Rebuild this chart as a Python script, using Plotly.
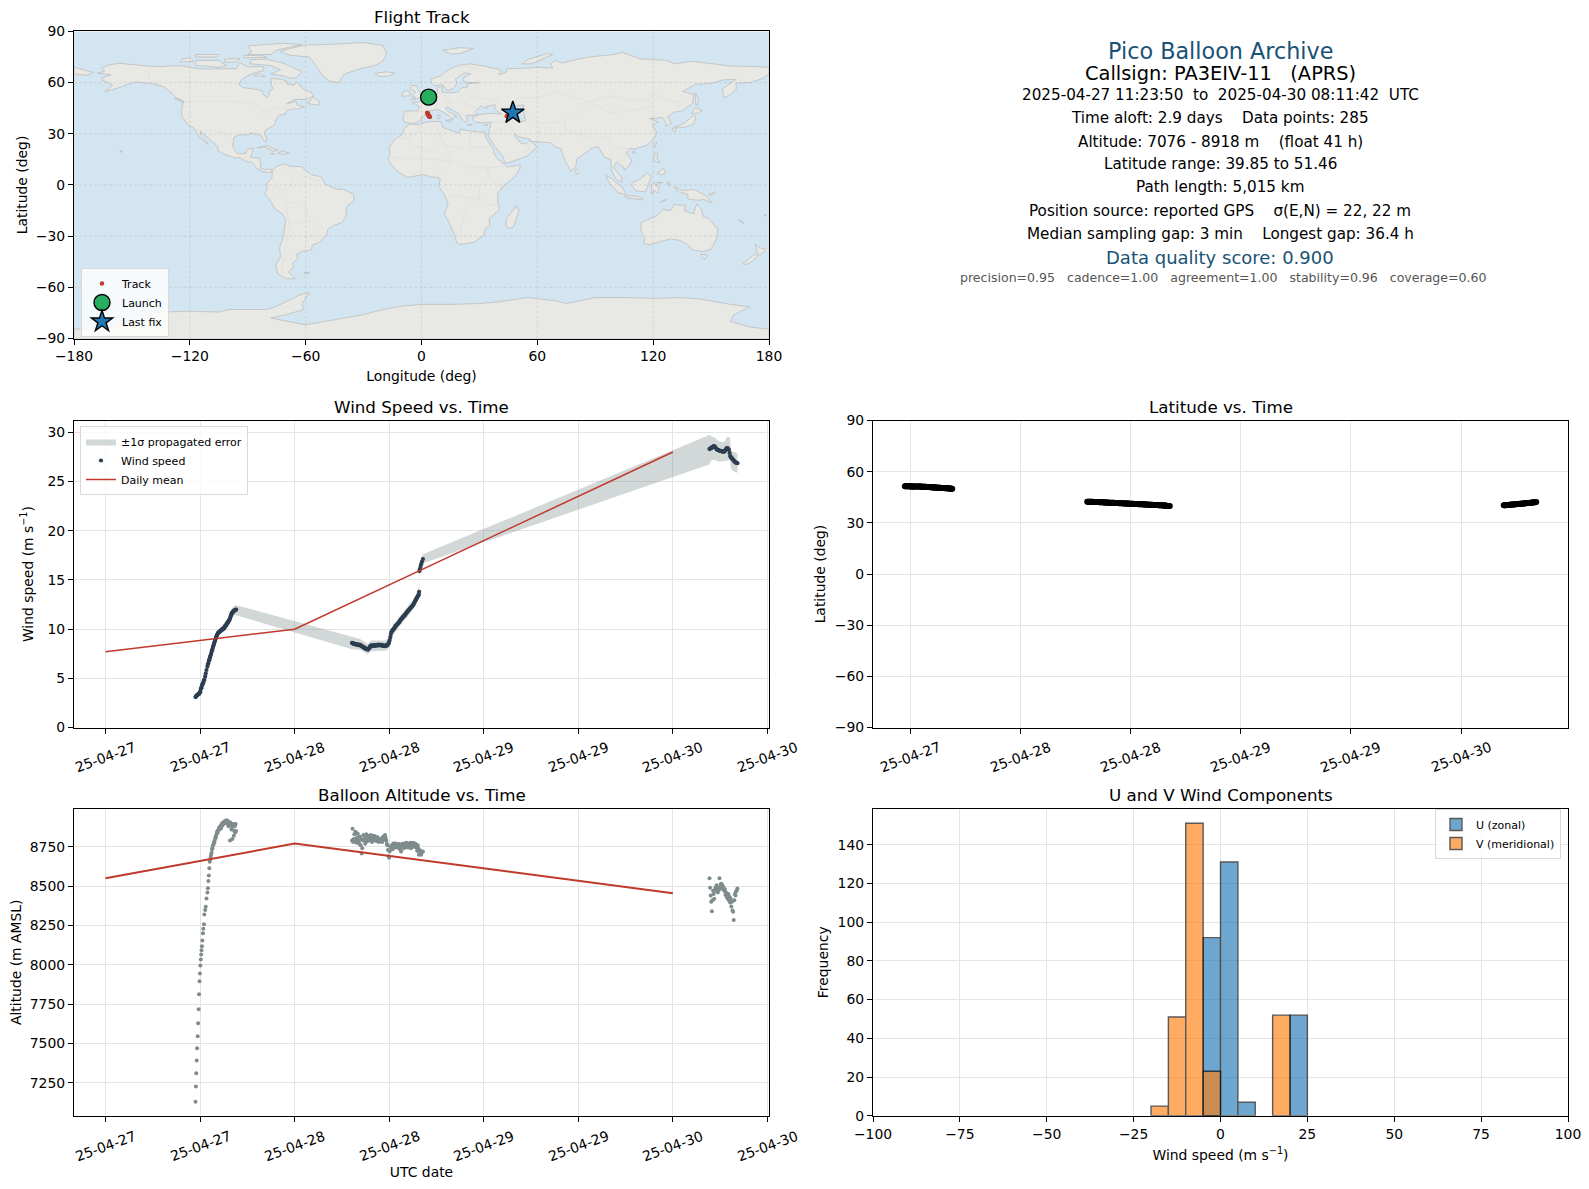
import pandas as pd
import plotly.graph_objects as go

# ---- flight data, hours after 2025-04-27 00:00 UTC ----
start_day = pd.Timestamp('2025-04-27 00:00')

hours_1 = [11.42,11.47,11.52,11.57,11.62,11.70,11.75,11.82,11.87,11.93,11.98,12.03,12.09,12.14,12.18,12.24,12.29,12.36,12.41,12.49,
           12.54,12.64,12.72,12.81,12.93,12.99,13.05,13.11,13.17,13.23,
           13.28,13.34,13.40,13.46,13.52,13.58,13.64,13.70,13.76,13.82,13.88,13.94,14.00,14.06,14.12,14.18,14.24,14.30,14.36,14.42,
           14.48,14.54,14.60,14.66,14.72,14.78,14.84,14.90,14.96,15.02,15.08,15.14,15.20,15.26,15.32,15.38,15.44,15.50,15.56,15.62,
           15.68,15.74,15.80,15.86,15.92,15.98,16.04,16.10,16.16,16.22,16.28,16.34,16.40,16.46,16.52,16.58]
wind_1 = [3.1,3.15,3.2,3.25,3.3,3.35,3.38,3.42,3.45,3.48,3.6,3.65,3.95,4.0,4.05,4.3,4.35,4.5,4.58,4.8,
          4.85,5.2,5.5,5.85,6.2,6.45,6.5,6.8,6.85,7.05,
          7.2,7.35,7.5,7.68,7.85,8.0,8.2,8.35,8.5,8.65,8.8,8.95,9.1,9.25,9.35,9.45,9.55,9.62,9.68,9.72,
          9.76,9.8,9.82,9.88,9.92,9.95,9.98,10.0,10.05,10.1,10.15,10.25,10.3,10.38,10.42,10.5,10.6,10.68,10.75,10.82,
          10.88,10.95,11.1,11.25,11.4,11.55,11.62,11.68,11.75,11.8,11.85,11.88,11.92,11.95,11.98,12.0]
alt_1 = [7129,7227,7310,7392,7469,7545,7628,7717,7812,7895,7945,7996,8034,8066,8092,8117,8155,8200,8229,8257,
         8320,8348,8369,8422,8460,8486,8532,8568,8613,8655,
         8668,8685,8700,8712,8735,8744,8760,8768,8780,8775,8795,8812,8808,8825,8832,8848,8840,8855,8862,8872,
         8860,8875,8882,8868,8890,8898,8885,8902,8895,8908,8900,8912,8905,8916,8910,8918,8905,8895,8912,8880,
         8900,8890,8790,8905,8885,8860,8895,8800,8875,8895,8820,8850,8880,8840,8895,8850]
lat_1 = [51.46,51.45,51.44,51.44,51.43,51.42,51.42,51.41,51.4,51.4,51.39,51.38,51.38,51.37,51.36,51.36,51.35,51.34,51.34,51.33,
         51.32,51.31,51.3,51.3,51.29,51.28,51.27,51.26,51.25,51.24,
         51.22,51.2,51.19,51.17,51.15,51.13,51.12,51.1,51.08,51.06,51.04,51.02,51.0,50.98,50.95,50.93,50.9,50.88,50.85,50.83,
         50.8,50.78,50.76,50.74,50.72,50.7,50.68,50.66,50.64,50.62,50.6,50.58,50.56,50.54,50.52,50.5,50.48,50.46,50.44,50.42,
         50.4,50.38,50.35,50.32,50.3,50.28,50.25,50.22,50.2,50.18,50.15,50.12,50.09,50.06,50.03,50.0]

hours_2 = [31.28,31.35,31.42,31.50,31.57,31.64,31.71,31.79,31.86,31.93,32.00,32.08,32.15,32.22,32.29,32.37,32.44,32.51,32.58,32.66,
           32.73,32.80,32.87,32.95,33.02,33.09,33.16,33.24,33.31,33.38,33.45,33.53,33.60,33.67,33.74,33.82,33.89,33.96,34.03,34.11,
           34.18,34.25,34.32,34.40,34.47,34.54,34.61,34.69,34.76,34.83,34.90,34.98,35.05,35.12,35.19,35.27,35.34,35.41,35.48,35.56,
           35.63,35.70,35.77,35.85,35.92,35.99,36.06,36.14,36.21,36.28,36.35,36.43,36.50,36.57,36.64,36.72,36.79,36.86,36.93,37.01,
           37.08,37.15,37.22,37.30,37.37,37.44,37.51,37.59,37.66,37.73,37.80,37.88,37.95,38.02,38.09,38.17,38.24,38.31,38.38,38.46,
           38.53,38.60,38.67,38.75,38.82,38.89,38.96,39.04,39.11,39.18,39.25,39.33,39.40,39.47,39.54,39.62,39.69,39.76,39.80,39.84,
           39.90,39.98,40.06,40.16,40.28]
wind_2 = [8.6,8.58,8.55,8.5,8.52,8.5,8.45,8.48,8.44,8.46,8.42,8.4,8.38,8.42,8.36,8.38,8.3,8.28,8.25,8.2,
          8.18,8.1,8.12,8.05,8.0,8.02,7.96,7.98,7.92,8.0,8.05,8.15,8.25,8.32,8.3,8.35,8.28,8.32,8.36,8.3,
          8.34,8.38,8.32,8.36,8.4,8.35,8.38,8.42,8.36,8.4,8.38,8.34,8.4,8.36,8.3,8.34,8.3,8.32,8.28,8.3,
          8.32,8.36,8.4,8.45,8.55,8.7,8.9,9.2,9.5,9.7,9.8,9.9,9.95,10.0,10.1,10.2,10.3,10.35,10.42,10.5,
          10.55,10.6,10.68,10.75,10.85,10.95,11.02,11.08,11.15,11.22,11.28,11.32,11.4,11.48,11.55,11.62,11.7,11.78,11.85,11.92,
          11.98,12.05,12.12,12.2,12.25,12.32,12.38,12.45,12.55,12.65,12.78,12.9,13.0,13.1,13.22,13.32,13.42,13.5,13.8,15.9,
          16.1,16.35,16.6,16.85,17.13]
alt_2 = [8790,8865,8780,8800,8830,8785,8845,8800,8775,8810,8835,8790,8780,8770,8815,8760,8800,8708,8740,8790,
         8825,8795,8815,8770,8780,8830,8800,8785,8820,8805,8790,8815,8800,8825,8795,8780,8810,8800,8820,8790,
         8805,8815,8790,8800,8785,8810,8795,8780,8800,8790,8785,8800,8790,8780,8810,8815,8795,8800,8825,8805,
         8790,8770,8760,8730,8690,8680,8720,8750,8745,8755,8760,8735,8770,8755,8750,8772,8745,8760,8765,8750,
         8755,8770,8740,8765,8750,8730,8720,8745,8770,8755,8760,8740,8765,8772,8755,8775,8750,8770,8745,8760,
         8770,8755,8775,8740,8770,8760,8775,8750,8765,8772,8760,8770,8745,8750,8725,8760,8740,8700,8730,8710,
         8715,8725,8700,8715,8720]
lat_2 = [42.35,42.35,42.34,42.34,42.33,42.33,42.32,42.32,42.31,42.3,42.3,42.28,42.26,42.24,42.22,42.2,42.18,42.16,42.14,42.12,
         42.1,42.08,42.06,42.04,42.02,42.0,41.98,41.96,41.94,41.92,41.9,41.88,41.86,41.84,41.83,41.82,41.8,41.78,41.76,41.74,
         41.72,41.7,41.68,41.66,41.64,41.62,41.6,41.58,41.56,41.54,41.52,41.5,41.48,41.46,41.44,41.42,41.4,41.38,41.36,41.34,
         41.32,41.3,41.28,41.26,41.24,41.22,41.2,41.18,41.16,41.14,41.12,41.1,41.08,41.06,41.04,41.02,41.0,40.98,40.96,40.94,
         40.92,40.9,40.88,40.86,40.84,40.82,40.8,40.78,40.76,40.74,40.72,40.7,40.68,40.66,40.64,40.62,40.6,40.58,40.56,40.54,
         40.52,40.5,40.48,40.46,40.44,40.42,40.4,40.38,40.36,40.34,40.32,40.3,40.28,40.25,40.22,40.2,40.18,40.15,40.12,40.1,
         40.05,40.0,39.95,39.9,39.85]

hours_3 = [76.65,76.72,76.80,76.87,76.95,77.02,77.10,77.17,77.25,77.32,77.40,77.47,77.55,77.62,77.70,77.77,77.85,77.92,78.00,78.07,
           78.15,78.22,78.30,78.37,78.45,78.52,78.60,78.67,78.75,78.82,78.90,78.97,79.05,79.12,79.20,79.27,79.35,79.42,79.50,79.57,
           79.65,79.72,79.80,79.87,79.95,80.02,80.10,80.19]
wind_3 = [28.3,28.35,28.38,28.4,28.45,28.5,28.55,28.58,28.6,28.55,28.45,28.38,28.3,28.25,28.22,28.18,28.15,28.14,28.12,28.1,
          28.08,28.06,28.05,28.04,28.02,28.05,28.1,28.2,28.3,28.38,28.4,28.35,28.3,28.2,27.9,27.6,27.5,27.42,27.35,27.28,
          27.2,27.13,27.05,27.0,26.95,26.92,26.88,26.86]
alt_3 = [8550,8490,8440,8400,8340,8410,8470,8450,8420,8475,8490,8470,8505,8470,8460,8490,8475,8550,8490,8510,
         8515,8495,8505,8480,8490,8470,8480,8445,8460,8430,8440,8420,8450,8410,8430,8395,8420,8370,8400,8345,
         8337,8284,8410,8450,8440,8465,8470,8485]
lat_3 = [40.3,40.32,40.35,40.38,40.4,40.42,40.45,40.5,40.55,40.6,40.65,40.7,40.75,40.78,40.8,40.82,40.85,40.9,40.95,41.0,
         41.02,41.05,41.1,41.15,41.18,41.2,41.25,41.3,41.35,41.4,41.42,41.45,41.5,41.55,41.6,41.65,41.68,41.7,41.75,41.8,
         41.85,41.9,41.95,42.0,42.05,42.1,42.15,42.2]

# +/- 1 sigma band outline
band_hours = [11.42,12.0,13.2,14.1,14.5,15.35,15.8,16.0,16.45,31.28,32.3,33.3,33.7,35.6,36.06,36.5,37.33,38.17,39.0,39.65,39.8,39.86,40.0,40.28,
              76.7,76.85,77.25,77.9,78.5,78.9,79.25,79.36,79.8,80.2]
band_low = [2.9,3.3,6.8,8.9,9.4,10.0,10.5,11.1,11.44,7.96,7.9,7.45,7.75,7.8,8.2,9.4,10.2,11.1,11.95,12.95,13.3,15.5,16.1,16.7,
            26.75,27.15,27.2,27.0,27.05,27.1,27.2,26.3,26.0,25.9]
band_up = [3.2,3.7,7.3,9.6,10.1,10.9,11.4,12.1,12.46,9.24,9.0,8.5,8.85,8.85,9.25,10.45,11.3,12.1,13.0,14.0,14.3,16.6,17.2,17.6,
           29.75,29.6,29.5,29.05,29.0,29.55,29.5,28.1,28.0,27.9]

# daily means
mean_hours = [0, 24, 72]
mean_wind = [7.7, 10.0, 28.0]
mean_alt = [8550, 8770, 8455]

# histogram, bin lower edges and counts
bin_width = 5
u_edges = [-5, 0, 5, 20]
u_counts = [92, 131, 7, 52]
v_edges = [-20, -15, -10, -5, 15]
v_counts = [5, 51, 151, 23, 52]

# track on the map
track_lon = [3.6,3.7,3.6,3.5,3.0,3.1,3.2,3.4,3.5,3.6,3.8,3.9,4.1,4.4,44.2,44.6,45.0,45.4,45.8,46.2,46.6,47.0]
track_lat = [51.4,51.0,50.5,50.0,42.4,42.1,41.8,41.5,41.2,40.9,40.6,40.3,40.1,39.9,40.3,40.6,40.9,41.2,41.5,41.8,42.0,42.2]
launch_lon, launch_lat = [3.7], [51.46]
last_lon, last_lat = [47.3], [42.3]

# tick labels
time_ticks = [0, 12, 24, 36, 48, 60, 72, 84]
time_labels = ['25-04-27','25-04-27','25-04-28','25-04-28','25-04-29','25-04-29','25-04-30','25-04-30']
lat_time_ticks = [12, 24, 36, 48, 60, 72]
lat_time_labels = ['25-04-27','25-04-28','25-04-28','25-04-29','25-04-29','25-04-30']
map_xticks = [-180, -120, -60, 0, 60, 120, 180]
map_yticks = [-90, -60, -30, 0, 30, 60, 90]
wind_ticks = [0, 5, 10, 15, 20, 25, 30]
lat_ticks = [-90, -60, -30, 0, 30, 60, 90]
alt_ticks = [7250, 7500, 7750, 8000, 8250, 8500, 8750]
hist_xticks = [-100, -75, -50, -25, 0, 25, 50, 75, 100]
hist_yticks = [0, 20, 40, 60, 80, 100, 120, 140]

# ---- world outline, lon/lat ----
north_america = [(-168,65.6),(-164,66.5),(-166,68.3),(-162,70.3),(-156.5,71.3),(-150,70.5),(-141,69.6),(-135,69.3),(-128,70),(-124,69.8),(-115,68),(-108,68),(-100,68),(-96,68.2),(-94,71.8),(-90,69),(-85,69.5),(-81.5,69),(-82,67),(-87,65.5),(-90,64),(-93,62),(-94.7,59),(-92.5,57),(-88,56.5),(-82.5,55.2),(-82,53),(-80,51.3),(-79,52),(-79,54.5),(-76.8,56.5),(-78,58.8),(-78,62.4),(-73,62),(-70,61),(-69.5,59),(-66,58.5),(-64.5,60.3),(-61.5,56.5),(-57,54),(-56,52),(-60,50.2),(-66,50),(-70,47.5),(-65,49),(-64.5,47),(-61,45.8),(-64,44.5),(-66,44.5),(-70,43.7),(-70.5,41.7),(-74,40.6),(-75.5,38),(-76,35.2),(-78,33.9),(-81,32),(-81.4,30),(-80,26.8),(-80.5,25.2),(-82,26.5),(-83,29),(-85,29.7),(-89,30.3),(-89.5,29.2),(-94,29.5),(-97.2,27.8),(-97.8,22.5),(-95.8,18.8),(-94,18.2),(-91,18.7),(-90.3,21),(-87,21.5),(-88,18),(-88.5,16),(-84,15.8),(-83.3,12),(-83.5,10),(-81,8.9),(-79.5,9.5),(-77.3,8.7),(-78,7.5),(-80,7.3),(-83,8.2),(-85.7,10),(-87.5,13),(-91.5,14),(-94.5,16.2),(-97,15.8),(-102,18),(-105.5,20),(-105.5,22.5),(-109,25.8),(-112.7,29.5),(-114.7,31.7),(-114.2,29),(-110.5,24),(-112,25),(-115,28),(-116.7,31.5),(-118.5,34),(-120.7,35),(-122.5,37.7),(-124.2,40.3),(-124.3,43),(-124,46.5),(-123,49),(-127,51),(-130,54.5),(-133.5,57.5),(-138,59),(-144,60),(-148,60.5),(-152,59),(-158,56.5),(-164,54.7),(-160,58.5),(-162,59.8),(-165.5,61.5),(-165,63),(-161,64.5)]
greenland = [(-73,78.2),(-68,80),(-60,82),(-45,82.5),(-30,83.5),(-20,81.8),(-18,77),(-20,72.5),(-24,70),(-32,68),(-40,65),(-43,60),(-48,61),(-52,65),(-54,69),(-58,75),(-68,76)]
baffin = [(-80,73.7),(-72,71.5),(-67,69),(-62,66.5),(-64.5,63),(-68,62.5),(-72,64),(-78,65),(-73,67.5),(-78,70),(-89,71),(-88,73.5)]
victoria_is = [(-117,70),(-105,69),(-101,70),(-105,73),(-117,73)]
banks_is = [(-125,72),(-118,72.5),(-120,74.5),(-124,74)]
ellesmere = [(-90,76.5),(-78,76.5),(-75,79),(-62,82.3),(-72,83),(-90,81.5),(-88,78)]
devon_is = [(-92,74.5),(-80,74.7),(-82,75.7),(-92,76)]
melville_is = [(-117,75),(-106,75),(-105,76.5),(-117,76.5)]
prince_wales_is = [(-102,72),(-96,72),(-94,74),(-102,73.8)]
newfoundland = [(-59,47.7),(-53,46.7),(-53,49),(-56,51.5)]
southampton_is = [(-87,64),(-81,63.5),(-84,65.5)]
vancouver_is = [(-128,50.7),(-123.5,48.4),(-125,50.2)]
cuba = [(-85,21.8),(-80,23),(-74.2,20.2),(-77.5,19.9),(-78,20.8),(-82,22.3)]
hispaniola = [(-74.4,18.5),(-72,19.9),(-68.4,18.6),(-71,18)]
jamaica = [(-78.3,18.4),(-76.3,18.2),(-77,17.8)]
hawaii = [(-156,20.3),(-155,19.7),(-155.8,19)]
south_america = [(-77.3,8.7),(-75,10.8),(-71.5,12.4),(-68,11),(-62,10.7),(-60,8.5),(-57,6),(-52,4.8),(-50,0.5),(-44,-2.5),(-40,-2.8),(-35.2,-5.5),(-35,-9),(-39,-13),(-39,-18),(-41,-22),(-45,-23.5),(-48.5,-26),(-49,-29),(-53,-33.7),(-56.5,-35),(-57,-38),(-62,-39),(-65,-41),(-64,-43),(-67,-46),(-66,-48),(-69,-51),(-65.3,-55),(-70,-55),(-74.5,-52),(-75.5,-47),(-73,-42),(-73.5,-37),(-71.5,-30),(-70.3,-20),(-72,-17),(-76,-14),(-79,-8),(-81.3,-5),(-80,-2.5),(-80,1),(-77.5,4),(-77.3,7)]
falklands = [(-61,-51.5),(-58,-51.3),(-59,-52.2)]
africa = [(-6,35.8),(-2,35.2),(3,36.9),(10,37.3),(11,33.7),(15,32.3),(19.5,30.3),(20,32.7),(25,31.7),(29,31),(32.5,31.2),(32.6,30),(33.8,27),(35.5,24),(37.2,21),(37.3,19),(39.5,15.2),(43,12),(43.3,11.5),(44.5,10.5),(51.2,11.8),(50.8,9),(48,4.5),(42,-1),(39.5,-5),(39.5,-10),(40.5,-14.5),(37,-17.8),(35,-20),(35.5,-24),(32.8,-26),(32.5,-29),(28,-33),(25.5,-34),(20,-34.8),(18.3,-34),(17,-29),(14.5,-22.5),(11.8,-17),(13.8,-11),(12,-6),(9,-1),(9.7,3.5),(8.5,4.5),(5.5,4.5),(1,6),(-4,5.2),(-7.5,4.4),(-13,8.5),(-15,11),(-17.3,14.7),(-16.2,19),(-17,21),(-14.5,26),(-9.7,30),(-9,33)]
madagascar = [(49.3,-12),(50.4,-15.5),(47.5,-25),(45,-25.5),(43.5,-23),(44.3,-19),(47,-15.5)]
eurasia = [(-9,37),(-9.5,38.8),(-8.8,43.3),(-1.8,43.4),(-1.2,46),(-4.7,48.3),(-1.5,48.7),(1.5,50.5),(4,52),(7,53.5),(8.5,54),(8.3,57),(10.7,57.7),(10.5,54.5),(14,54),(19,54.5),(21,57),(24,57.5),(23.5,59.3),(30,60),(24,60),(21.5,61),(22,63),(25.5,65.2),(22,65.7),(17.5,62),(18.5,59.8),(16.5,56.5),(14,55.5),(12.7,56),(11,59),(7,58),(5,60),(5,62),(10,64),(14,67.5),(19,70),(25,71),(31,70),(41,67.5),(41,66.5),(40,64.6),(44,66),(44,68),(54,68.5),(60,69),(68,68.5),(67,71),(69,73),(73,71.5),(75,72),(80,73.5),(87,75),(100,76.5),(104,77.7),(113,74),(127,73),(131,71),(140,72.5),(150,71),(160,69.7),(170,69.5),(180,69),(180,65),(177,62.5),(170,60),(163,59.7),(163,56),(160,53),(156.7,51),(155.7,56),(161,60.5),(163,62),(156,61.5),(150,59.5),(142,59),(135.3,54.8),(141,53),(140.5,48),(135,43.5),(130.5,42.5),(127.5,39.8),(129.5,36),(126.5,34.5),(126.5,37),(124.5,39.8),(121.5,39),(118,39),(122.5,37),(119.5,35),(121.7,31),(121,28),(117,23.5),(110.5,21),(108,21.5),(106,19),(109,14),(107,10.5),(105,8.7),(105,10),(101,13.5),(99.5,10),(103.5,4.5),(104,1.5),(101,3),(98.5,8),(98,15),(95,16),(94,18),(91.5,22.5),(88,21.7),(86.5,20),(80.3,15),(80,11),(77.5,8),(74.5,14),(72.8,19),(72.5,21),(69,22.5),(67,24.8),(61.5,25.2),(57,25.5),(56,27),(51,28),(48.5,30),(48,29.5),(50,26.5),(51.5,24.5),(54,24),(56,26),(59.8,22.5),(55,17),(45,13),(43,13),(42.5,16),(39,21),(35,28),(34.5,29.5),(34.9,31.5),(36,35.5),(36.2,36.7),(30.5,36.5),(27.5,37),(26.3,39.5),(29,41),(35,42),(41.5,41.5),(38,44.5),(38,47),(33.5,46),(33.5,44.5),(31,46.5),(28,43),(29,41.2),(26,40.7),(23,40.5),(24,38),(22.7,36.7),(20,39.8),(19.5,41.5),(15,44.5),(13.5,45.7),(12.3,45),(13.7,43),(16,41.7),(18.5,40),(16.7,40),(16,38),(14.5,40.5),(10.5,43),(8.5,44.3),(4,43.4),(3,41.8),(0,39.5),(-0.5,38),(-2,36.8),(-5.5,36)]
chukotka = [(-180,69),(-175,67.5),(-170,66),(-173,64.3),(-180,65)]
britain = [(-5.5,50),(1.3,51.2),(1.7,52.7),(-0.2,53.7),(-2,56),(-2,57.7),(-5,58.6),(-6,56.5),(-3,54.7),(-4.5,53.3),(-5,51.8),(-3,51.3)]
ireland = [(-10,52),(-6.2,52.2),(-6,54.5),(-8,55.2),(-10,54)]
iceland = [(-24,65.5),(-18,66.3),(-14,65.5),(-16,64),(-20,63.5),(-22.5,64)]
svalbard = [(11,79),(20,80.5),(27,80),(20,77),(15,76.8)]
novaya_zemlya = [(52,71),(55,73.5),(65,77),(68,76.5),(57,71)]
sicily = [(12.5,38),(15.5,38.2),(15,36.7)]
sardinia = [(8.3,41),(9.7,41),(9.5,39),(8.5,39)]
crete = [(23.5,35.5),(26.3,35.2),(24.8,34.9)]
cyprus = [(32.3,35),(34.5,35.6),(33.5,34.7)]
sakhalin = [(142,54),(143.5,50),(143,46.5),(142,47),(142,52)]
honshu = [(130.9,34),(136,36),(140,40),(141.5,41),(142,39),(140.8,35.5),(136,33.7),(132,33.8)]
hokkaido = [(140,42),(141.8,45.5),(145.5,43.5),(143,42)]
kyushu = [(130,33.5),(132,33),(131,31),(130,32)]
taiwan = [(121,25.2),(122,25),(120.8,22),(120,23.5)]
hainan = [(109,19),(110.5,20),(110.5,18.5)]
luzon = [(120.5,18.5),(122.2,18.5),(122,15),(124,13),(120.5,13.8)]
mindanao = [(122,7),(125.5,9.8),(126.5,7),(124,6)]
borneo = [(109,1.5),(113,3.2),(117,7),(119,5),(117.7,1),(116,-4),(111,-3.5),(109,0)]
sumatra = [(95.3,5.6),(98,4),(104,-1.5),(106,-5.8),(102,-4.5),(98,0)]
java = [(105.3,-6.5),(111,-6.5),(114.5,-7.7),(114.5,-8.7),(106,-7.5)]
timor = [(123.5,-10.3),(127,-8.4),(125,-9.2)]
halmahera = [(127.5,2),(128.7,1),(128,-0.8)]
sulawesi = [(119.5,-5.5),(119,0),(121,1.2),(125,1.5),(121,0),(123,-1),(122.5,-5),(120.5,-3)]
new_guinea = [(131,-1),(135,-3.3),(141,-2.6),(147,-6),(150.5,-10.5),(146,-8.5),(143,-9),(138,-8.3),(138,-5.5),(133,-4)]
new_britain = [(148.5,-5.8),(152,-4.2),(151,-6)]
new_caledonia = [(164,-20.2),(167,-22.4),(166,-22.2)]
fiji = [(177.3,-17.5),(178.6,-17.7),(178,-18.3)]
australia = [(114,-22),(113.5,-26),(115.7,-32),(115,-34.3),(118,-35),(124,-33),(129,-31.6),(134,-32.5),(138,-35),(140,-38),(146,-39),(150,-37.5),(153,-31),(153.5,-26),(149,-20),(146,-18.5),(145,-14.5),(142.5,-11),(141,-17),(136,-15),(136.5,-12),(131,-11.5),(129,-15),(125,-14.5),(122,-18)]
tasmania = [(144.7,-40.7),(148,-41),(147,-43.5),(145.5,-42.8)]
nz_north = [(172.7,-34.5),(175.5,-37),(178.5,-37.7),(175,-41.5),(174,-39.5)]
nz_south = [(172.7,-40.5),(174,-41.7),(171,-45),(168,-46.7),(166.5,-46),(171,-42)]
sri_lanka = [(80,9.7),(82,7.5),(80.7,6),(79.8,8)]
antarctica = [(-180,-84.5),(-165,-84.5),(-150,-80),(-148,-77),(-135,-74.5),(-120,-74),(-105,-74.5),(-100,-73),(-90,-73),(-80,-73),(-75,-71),(-68,-67),(-62,-64),(-58,-63.3),(-60,-66),(-62,-70),(-61,-73),(-70,-76),(-78,-78),(-60,-82),(-40,-78),(-30,-76),(-20,-73),(-10,-71),(0,-70),(15,-70),(30,-69.5),(40,-68.5),(55,-66),(70,-68),(75,-69.5),(90,-66),(105,-66),(120,-66.5),(135,-66),(145,-67),(160,-70),(170,-71.5),(162,-76),(160,-80),(170,-83.3),(180,-84.5),(180,-90),(-180,-90)]
caspian = [(47,45),(49,46.5),(53,46.8),(53,42),(54,37.5),(50,37.3),(49,40),(47.5,43)]

land = [north_america, greenland, baffin, victoria_is, banks_is, ellesmere, devon_is, melville_is, prince_wales_is,
        newfoundland, southampton_is, vancouver_is, cuba, hispaniola, jamaica, hawaii, south_america, falklands, africa,
        madagascar, eurasia, chukotka, britain, ireland, iceland, svalbard, novaya_zemlya, sicily, sardinia, crete, cyprus,
        sakhalin, honshu, hokkaido, kyushu, taiwan, hainan, luzon, mindanao, borneo, sumatra, java, timor, halmahera,
        sulawesi, new_guinea, new_britain, new_caledonia, fiji, australia, tasmania, nz_north, nz_south, sri_lanka,
        antarctica]

borders = [
    [(-123,49),(-95,49),(-89,48),(-83,46),(-82.5,42),(-79,43.3),(-75,45),(-71,45),(-67.5,47),(-67,45)],
    [(-141,69.6),(-141,60.3),(-135,59)],
    [(-117,32.5),(-106.5,31.8),(-101,29.5),(-97.2,26)],
    [(-92,14.5),(-91,17.5),(-89,18)],
    [(-52,2),(-60,5),(-67,1.5),(-70,-4),(-74,-7.5),(-70,-11),(-65,-10),(-60,-14),(-58,-20),(-54.5,-25.5),(-57.5,-30),(-53.5,-33.7)],
    [(-69.5,-17.5),(-68,-23),(-70,-33),(-72,-45),(-72,-52)],
    [(-72,11.5),(-67,6),(-67,1.5)],
    [(-80,-3.5),(-75,-1),(-70,-4)],
    [(-69.5,-17.5),(-70,-11)],
    [(-58,-20),(-62,-22),(-68,-23)],
    [(-13,27.7),(-8.7,27),(3,19),(12,23.5),(25,20),(25,31.5)],
    [(-8.7,27),(-1,32),(-2,35)],
    [(25,22),(37,22)],
    [(12,23.5),(15,14),(14,11),(9,5)],
    [(30,-1),(30,-8),(24,-11),(22,-18),(20,-28),(17,-29)],
    [(34,10),(35,4.5),(41,-1.7)],
    [(30,-1),(35,4.5)],
    [(12.5,-6),(30,-8)],
    [(-16,16),(5,15),(15,14),(24,10),(34,10),(43,11)],
    [(8,37),(9,30),(12,23.5)],
    [(30,-8),(35,-12),(40,-11)],
    [(2,51),(8,48),(7,44)],
    [(-1.8,43.3),(3,42.5)],
    [(-7,37),(-7,42),(-9,42)],
    [(8,54.8),(15,51),(13,48),(23,49),(19,54.5)],
    [(30,60),(28,56),(24,51.5),(40,49.5),(38,47)],
    [(22,48),(29,45)],
    [(19.5,42),(23,41),(26,41.7)],
    [(23,65.7),(29,69),(20,69),(12,61),(11,59)],
    [(48,46),(50,51),(60,51),(70,55),(80,51),(87,49),(98,52),(106,50),(117,50),(120,53),(127,50),(135,48),(131,43)],
    [(87,49),(80,42),(74,39),(75,32),(79,30),(88,27.5),(97,28),(98,24),(102,21.5),(108,21.5)],
    [(53,42),(61,36),(74,37)],
    [(61,36),(61,29),(61.5,25)],
    [(45,39),(46,35),(48,30)],
    [(36,36.7),(45,37),(42,33),(39,32),(35,29.5)],
    [(52,19),(55,20),(56,24.5)],
    [(66,25),(71,29),(75,32)],
    [(88,27),(92,23),(91,22.5)],
    [(100,20),(98,16)],
    [(105,22),(105,14),(102,14)],
    [(87,49),(98,42),(111,44),(120,47),(117,50)],
    [(141,-2.6),(141,-9)],
]

# info panel text
info_lines = [
    ('Pico Balloon Archive', 51, 22.3, '#1A5276'),
    ('Callsign: PA3EIV-11   (APRS)', 73, 19.4, 'black'),
    ('2025-04-27 11:23:50  to  2025-04-30 08:11:42  UTC', 95, 15.2, 'black'),
    ('Time aloft: 2.9 days    Data points: 285', 118, 15.2, 'black'),
    ('Altitude: 7076 - 8918 m    (float 41 h)', 142, 15.2, 'black'),
    ('Latitude range: 39.85 to 51.46', 164, 15.2, 'black'),
    ('Path length: 5,015 km', 187, 15.2, 'black'),
    ('Position source: reported GPS    σ(E,N) = 22, 22 m', 211, 15.2, 'black'),
    ('Median sampling gap: 3 min    Longest gap: 36.4 h', 234, 15.2, 'black'),
    ('Data quality score: 0.900', 257, 18, '#1A5276'),
]
info_small = 'precision=0.95   cadence=1.00   agreement=1.00   stability=0.96   coverage=0.60'


def to_time(hours):
    return start_day + pd.to_timedelta(hours, unit='h')


FIG_W, FIG_H = 1589, 1189
LEFT = [74 / FIG_W, 769 / FIG_W]
RIGHT = [873 / FIG_W, 1568 / FIG_W]
ROW1 = [1 - 338.5 / FIG_H, 1 - 31.4 / FIG_H]
ROW2 = [1 - 727.6 / FIG_H, 1 - 420.5 / FIG_H]
ROW3 = [1 - 1115.8 / FIG_H, 1 - 808.7 / FIG_H]
FONT = 'DejaVu Sans'
TICK_SIZE = 13.9
GRID = '#E4E4E4'
RED = '#C0392B'
time_range = [to_time(-4.0), to_time(84.2)]
lat_range = [to_time(7.95), to_time(83.65)]

assert len(hours_1) == len(wind_1) == len(alt_1) == len(lat_1)
assert len(hours_2) == len(wind_2) == len(alt_2) == len(lat_2)
assert len(hours_3) == len(wind_3) == len(alt_3) == len(lat_3)

all_hours = hours_1 + hours_2 + hours_3
times = to_time(all_hours)
wind = wind_1 + wind_2 + wind_3
alt = alt_1 + alt_2 + alt_3
lat = lat_1 + lat_2 + lat_3

fig = go.Figure()

# --- map ---
land_x, land_y = [], []
for poly in land:
    land_x += [p[0] for p in poly] + [poly[0][0], None]
    land_y += [p[1] for p in poly] + [poly[0][1], None]
fig.add_trace(go.Scatter(x=land_x, y=land_y, mode='lines', fill='toself', fillcolor='#E8E8E4',
                         line=dict(color='#BEBEBE', width=0.8), hoverinfo='skip', showlegend=False,
                         xaxis='x', yaxis='y'))
border_x, border_y = [], []
for line in borders:
    border_x += [p[0] for p in line] + [None]
    border_y += [p[1] for p in line] + [None]
fig.add_trace(go.Scatter(x=border_x, y=border_y, mode='lines', line=dict(color='#DEDEDA', width=0.7),
                         hoverinfo='skip', showlegend=False, xaxis='x', yaxis='y'))
fig.add_trace(go.Scatter(x=[p[0] for p in caspian] + [caspian[0][0]], y=[p[1] for p in caspian] + [caspian[0][1]],
                         mode='lines', fill='toself', fillcolor='#D3E5F1', line=dict(color='#BEBEBE', width=0.8),
                         hoverinfo='skip', showlegend=False, xaxis='x', yaxis='y'))
fig.add_trace(go.Scatter(x=track_lon, y=track_lat, mode='markers', name='Track',
                         marker=dict(color=RED, size=4.4), xaxis='x', yaxis='y', legend='legend'))
fig.add_trace(go.Scatter(x=launch_lon, y=launch_lat, mode='markers', name='Launch',
                         marker=dict(color='#27AE60', size=16, line=dict(color='black', width=1.4)),
                         xaxis='x', yaxis='y', legend='legend'))
fig.add_trace(go.Scatter(x=last_lon, y=last_lat, mode='markers', name='Last fix',
                         marker=dict(color='#1F77B4', size=17, symbol='star', line=dict(color='black', width=1.4)),
                         xaxis='x', yaxis='y', legend='legend'))

# --- wind speed ---
band_t = list(to_time(band_hours))
fig.add_trace(go.Scatter(x=band_t + band_t[::-1], y=band_up + band_low[::-1], mode='lines', fill='toself',
                         fillcolor='rgba(127,140,141,0.35)', line=dict(width=0), name='±1σ propagated error',
                         hoverinfo='skip', xaxis='x2', yaxis='y2', legend='legend2'))
fig.add_trace(go.Scatter(x=times, y=wind, mode='markers', name='Wind speed',
                         marker=dict(color='#2C3E50', size=4.2), xaxis='x2', yaxis='y2', legend='legend2'))
fig.add_trace(go.Scatter(x=to_time(mean_hours), y=mean_wind, mode='lines', name='Daily mean',
                         line=dict(color=RED, width=1.5), xaxis='x2', yaxis='y2', legend='legend2'))

# --- latitude ---
fig.add_trace(go.Scatter(x=times, y=lat, mode='markers', marker=dict(color='black', size=6),
                         showlegend=False, xaxis='x3', yaxis='y3'))

# --- altitude ---
fig.add_trace(go.Scatter(x=times, y=alt, mode='markers', marker=dict(color='#7F8C8D', size=4),
                         showlegend=False, xaxis='x4', yaxis='y4'))
fig.add_trace(go.Scatter(x=to_time(mean_hours), y=mean_alt, mode='lines', line=dict(color=RED, width=2),
                         showlegend=False, xaxis='x4', yaxis='y4'))

# --- U / V histogram ---
edge = dict(color='black', width=1.4)
fig.add_trace(go.Bar(x=[e + bin_width / 2 for e in u_edges], y=u_counts, width=bin_width, name='U (zonal)', opacity=0.65,
                     marker=dict(color='#1F77B4', line=edge), xaxis='x5', yaxis='y5', legend='legend3'))
fig.add_trace(go.Bar(x=[e + bin_width / 2 for e in v_edges], y=v_counts, width=bin_width, name='V (meridional)', opacity=0.65,
                     marker=dict(color='#FF7F0E', line=edge), xaxis='x5', yaxis='y5', legend='legend3'))


def axis_style(**kw):
    style = dict(showline=True, linecolor='black', linewidth=1.2, mirror=True, ticks='outside', ticklen=5,
                 tickwidth=1.1, tickcolor='black', showgrid=True, gridcolor=GRID, gridwidth=1, zeroline=False,
                 tickfont=dict(family=FONT, size=TICK_SIZE, color='black'))
    style.update(kw)
    return style


def time_axis(domain, anchor, ticks=time_ticks, rng=time_range):
    return axis_style(domain=domain, anchor=anchor, type='date', range=rng, tickmode='array',
                      tickvals=[to_time(t) for t in ticks], showticklabels=False)


def ax_title(text, standoff):
    return dict(text=text, font=dict(family=FONT, size=TICK_SIZE, color='black'), standoff=standoff)


map_grid = [dict(type='line', xref='x', yref='y domain', x0=v, x1=v, y0=0, y1=1, layer='above',
                 line=dict(color='rgba(140,140,140,0.3)', width=0.7, dash='3px,2px')) for v in map_xticks[1:-1]]
map_grid += [dict(type='line', xref='x domain', yref='y', x0=0, x1=1, y0=v, y1=v, layer='above',
                  line=dict(color='rgba(140,140,140,0.3)', width=0.7, dash='3px,2px')) for v in map_yticks[1:-1]]

notes = []
# subplot titles
for text, cx, top in [('Flight Track', sum(LEFT) / 2, ROW1[1]), ('Wind Speed vs. Time', sum(LEFT) / 2, ROW2[1]),
                      ('Latitude vs. Time', sum(RIGHT) / 2, ROW2[1]), ('Balloon Altitude vs. Time', sum(LEFT) / 2, ROW3[1]),
                      ('U and V Wind Components', sum(RIGHT) / 2, ROW3[1])]:
    notes.append(dict(text=text, x=cx, y=top, xref='paper', yref='paper', xanchor='center', yanchor='bottom',
                      yshift=2, showarrow=False, font=dict(family=FONT, size=16.7, color='black')))
# rotated time labels, centred on their ticks
for xref, bottom, ticks, labels in [('x2', ROW2[0], time_ticks, time_labels), ('x3', ROW2[0], lat_time_ticks, lat_time_labels),
                                    ('x4', ROW3[0], time_ticks, time_labels)]:
    for t, label in zip(ticks, labels):
        notes.append(dict(text=label, x=to_time(t), y=bottom, xref=xref, yref='paper', xanchor='center',
                          yanchor='top', yshift=-9, textangle=-20, showarrow=False,
                          font=dict(family=FONT, size=TICK_SIZE, color='black')))
# info panel
for text, py, size, color in info_lines:
    notes.append(dict(text=text, x=1220 / FIG_W, y=1 - py / FIG_H, xref='paper', yref='paper', xanchor='center',
                      yanchor='middle', showarrow=False, font=dict(family=FONT, size=size, color=color)))
notes.append(dict(text=info_small, x=1223 / FIG_W, y=1 - 278 / FIG_H, xref='paper', yref='paper', xanchor='center',
                  yanchor='middle', showarrow=False, font=dict(family=FONT, size=12.55, color='#555555')))

fig.update_layout(
    width=FIG_W, height=FIG_H, margin=dict(l=0, r=0, t=0, b=0, autoexpand=False), autosize=False,
    paper_bgcolor='white', plot_bgcolor='white', barmode='overlay', hovermode=False,
    font=dict(family=FONT, color='black'),
    xaxis=axis_style(domain=LEFT, anchor='y', range=[-180, 180], tickvals=map_xticks, showgrid=False,
                     title=ax_title('Longitude (deg)', 7)),
    yaxis=axis_style(domain=ROW1, anchor='x', range=[-90, 90], tickvals=map_yticks, showgrid=False,
                     title=ax_title('Latitude (deg)', 4)),
    xaxis2=time_axis(LEFT, 'y2'),
    yaxis2=axis_style(domain=ROW2, anchor='x2', range=[0, 31.2], tickvals=wind_ticks,
                      title=ax_title('Wind speed (m s<sup>−1</sup>)', 10)),
    xaxis3=time_axis(RIGHT, 'y3', lat_time_ticks, lat_range),
    yaxis3=axis_style(domain=ROW2, anchor='x3', range=[-90, 90], tickvals=lat_ticks,
                      title=ax_title('Latitude (deg)', 5)),
    xaxis4=dict(time_axis(LEFT, 'y4'), title=ax_title('UTC date', 46)),
    yaxis4=axis_style(domain=ROW3, anchor='x4', range=[7040, 8992], tickvals=alt_ticks,
                      title=ax_title('Altitude (m AMSL)', 4)),
    xaxis5=axis_style(domain=RIGHT, anchor='y5', range=[-100, 100], tickvals=hist_xticks,
                      title=ax_title('Wind speed (m s<sup>−1</sup>)', 9)),
    yaxis5=axis_style(domain=ROW3, anchor='x5', range=[0, 158.55], tickvals=hist_yticks,
                      title=ax_title('Frequency', 5)),
    legend=dict(x=81 / FIG_W, y=1 - 268 / FIG_H, xanchor='left', yanchor='top', bgcolor='rgba(255,255,255,0.8)',
                bordercolor='#D8D8D8', borderwidth=1, font=dict(family=FONT, size=11), itemsizing='trace'),
    legend2=dict(x=80 / FIG_W, y=1 - 426 / FIG_H, xanchor='left', yanchor='top', bgcolor='rgba(255,255,255,0.8)',
                 bordercolor='#D8D8D8', borderwidth=1, font=dict(family=FONT, size=11)),
    legend3=dict(x=1561 / FIG_W, y=1 - 809 / FIG_H, xanchor='right', yanchor='top', bgcolor='rgba(255,255,255,0.8)',
                 bordercolor='#D8D8D8', borderwidth=1, font=dict(family=FONT, size=11)),
    shapes=map_grid,
    annotations=notes,
)
# ocean behind the world outline only on the map
fig.add_shape(type='rect', xref='x domain', yref='y domain', x0=0, x1=1, y0=0, y1=1, layer='below',
              fillcolor='#D3E5F1', line=dict(width=0))

fig.write_html('out.html', config={'displayModeBar': False}, post_script="document.body.style.margin='0';")
